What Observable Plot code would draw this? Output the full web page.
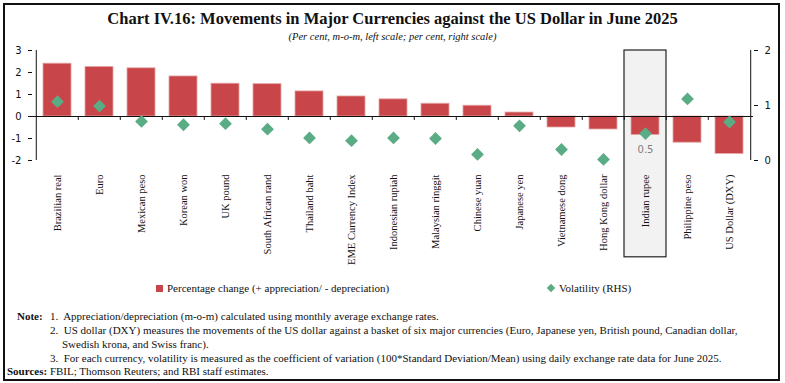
<!DOCTYPE html>
<html>
<head>
<meta charset="utf-8">
<script src="https://cdn.jsdelivr.net/npm/d3@7"></script>
<script src="https://cdn.jsdelivr.net/npm/@observablehq/plot@0.6"></script>
<style>
  body { margin: 0; background: #fff; }
  #fig { position: relative; width: 785px; height: 383px; overflow: hidden; font-family: "Liberation Serif", serif; color: #111; }
  #border { position: absolute; left: 3px; top: 3px; width: 777px; height: 378px; border: 2px solid #111; box-sizing: border-box; }
  #title { position: absolute; top: 9px; left: 0; width: 785px; text-align: center; font-weight: bold; font-size: 16.5px; line-height: 20px; }
  #subtitle { position: absolute; top: 30px; left: 0; width: 785px; text-align: center; font-style: italic; font-size: 10.5px; line-height: 14px; }
  #chart { position: absolute; left: 0; top: 40px; }
  .leg { position: absolute; top: 280px; font-size: 11px; line-height: 16px; white-space: nowrap; }
  .sw { display: inline-block; vertical-align: middle; margin-right: 4px; position: relative; top: -1px; }
  .note { position: absolute; font-size: 11px; line-height: 14px; white-space: nowrap; }
</style>
</head>
<body>
<div id="fig">
  <div id="border"></div>
  <div id="title">Chart IV.16: Movements in Major Currencies against the US Dollar in June 2025</div>
  <div id="subtitle">(Per cent, m-o-m, left scale; per cent, right scale)</div>
  <div id="chart"></div>
  <div class="leg" style="left:156px"><span class="sw" style="width:7px;height:7px;background:#c8464a"></span>Percentage change (+ appreciation/ - depreciation)</div>
  <div class="leg" style="left:548px"><span class="sw" style="width:6px;height:6px;background:#5aac84;transform:rotate(45deg);margin-right:5px"></span>Volatility (RHS)</div>
  <div class="note" style="left:17px;top:309px"><b>Note:</b></div>
  <div class="note" style="left:50px;top:309px">1.&nbsp; Appreciation/depreciation (m-o-m) calculated using monthly average exchange rates.</div>
  <div class="note" style="left:50px;top:323px">2.&nbsp; US dollar (DXY) measures the movements of the US dollar against a basket of six major currencies (Euro, Japanese yen, British pound, Canadian dollar,</div>
  <div class="note" style="left:62px;top:337px">Swedish krona, and Swiss franc).</div>
  <div class="note" style="left:50px;top:351px">3.&nbsp; For each currency, volatility is measured as the coefficient of variation (100*Standard Deviation/Mean) using daily exchange rate data for June 2025.</div>
  <div class="note" style="left:7px;top:364px"><b>Sources:</b> FBIL; Thomson Reuters; and RBI staff estimates.</div>
</div>
<script>
const categories = ["Brazilian real", "Euro", "Mexican peso", "Korean won", "UK pound", "South African rand", "Thailand baht", "EME Currency Index", "Indonesian rupiah", "Malaysian ringgit", "Chinese yuan", "Japanese yen", "Vietnamese dong", "Hong Kong dollar", "Indian rupee", "Philippine peso", "US Dollar (DXY)"];
const percentChange = [2.40, 2.25, 2.19, 1.82, 1.49, 1.47, 1.14, 0.91, 0.78, 0.58, 0.49, 0.18, -0.50, -0.59, -0.84, -1.19, -1.70];
const volatility = [1.07, 0.99, 0.71, 0.65, 0.67, 0.57, 0.41, 0.36, 0.41, 0.40, 0.11, 0.63, 0.20, 0.02, 0.49, 1.12, 0.70];
const leftTicks = [-2, -1, 0, 1, 2, 3];
const rightTicks = [0, 1, 2];
const highlighted = "Indian rupee";

const leftDomain = [-2, 3];
const rightDomain = [0, 2];
const toLeft = v => leftDomain[0] + (v - rightDomain[0]) * (leftDomain[1] - leftDomain[0]) / (rightDomain[1] - rightDomain[0]);
const fromLeft = y => rightDomain[0] + (y - leftDomain[0]) * (rightDomain[1] - rightDomain[0]) / (leftDomain[1] - leftDomain[0]);

const data = categories.map((name, i) => ({name, change: percentChange[i], vol: volatility[i]}));

const W = 785, mL = 32, mR = 32;
const bw = (W - mL - mR) / categories.length;

const diamond = {
  draw(ctx, size) {
    const r = Math.sqrt(size / 2);
    ctx.moveTo(0, -r); ctx.lineTo(r, 0); ctx.lineTo(0, r); ctx.lineTo(-r, 0); ctx.closePath();
  }
};

const sans = "DejaVu Sans, Verdana, sans-serif";
const serif = "Liberation Serif, serif";

const chart = Plot.plot({
  width: W,
  height: 240,
  marginTop: 10,
  marginBottom: 120,
  marginLeft: mL,
  marginRight: mR,
  x: {domain: categories, padding: 0, axis: null, label: null},
  y: {domain: leftDomain, axis: null, label: null},
  style: {background: "transparent", color: "#111"},
  marks: [
    Plot.barY([highlighted], {x: d => d, y1: -6.4, y2: leftDomain[1], fill: "#f2f2f2", stroke: "#222", strokeWidth: 1.2}),
    Plot.barY(data, {x: "name", y: "change", fill: "#c8464a", stroke: "#e4a4a4", strokeWidth: 0.8, insetLeft: 7, insetRight: 7}),
    Plot.ruleY([0], {stroke: "#111", strokeWidth: 1}),
    Plot.ruleX(categories.slice(1), {dx: -bw / 2, y1: 0, y2: -0.18, stroke: "#111", strokeWidth: 1}),
    Plot.ruleX([categories[0]], {dx: -bw / 2, y1: leftDomain[0], y2: leftDomain[1], stroke: "#111", strokeWidth: 1}),
    Plot.ruleX([categories[categories.length - 1]], {dx: bw / 2, y1: leftDomain[0], y2: leftDomain[1], stroke: "#111", strokeWidth: 1}),
    Plot.dot(data, {x: "name", y: d => toLeft(d.vol), symbol: diamond, r: 5.1, fill: "#5aac84", stroke: "none"}),
    Plot.text(data.filter(d => d.name === highlighted), {x: "name", y: d => toLeft(d.vol), dy: 16, text: d => d3.format(".1f")(d.vol), fill: "#808080", fontSize: 10, fontFamily: sans}),
    Plot.axisY({anchor: "left", label: null, ticks: leftTicks, tickSize: 4, tickPadding: 7, tickFormat: d => String(d), fontSize: 10, fontFamily: sans}),
    Plot.axisY({anchor: "right", label: null, ticks: rightTicks.map(toLeft), tickSize: 4, tickPadding: 7, tickFormat: d => String(Math.round(fromLeft(d))), fontSize: 10, fontFamily: sans}),
    Plot.axisX({anchor: "bottom", label: null, tickSize: 0, tickPadding: 14, tickRotate: -90, fontSize: 10.5, fontFamily: serif})
  ]
});
document.getElementById("chart").appendChild(chart);
</script>
</body>
</html>
